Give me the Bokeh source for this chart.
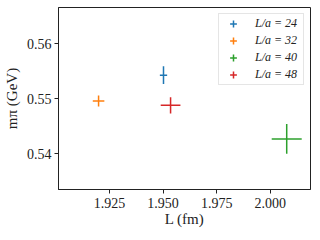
import numpy as np
from bokeh.plotting import figure
from bokeh.models import Range1d, FixedTicker, Legend, LegendItem, ColumnDataSource
from bokeh.embed import file_html
from bokeh.resources import INLINE

labels = ["L/a = 24", "L/a = 32", "L/a = 40", "L/a = 48"]
colors = ["#1f77b4", "#ff7f0e", "#2ca02c", "#d62728"]
L_fm = [1.9502, 1.9199, 2.0077, 1.9535]
L_err = [0.0017, 0.0027, 0.0070, 0.0046]
m_pi = [0.5543, 0.5496, 0.5427, 0.5488]
m_err = [0.0016, 0.0010, 0.0027, 0.0015]
x_ticks = [1.925, 1.950, 1.975, 2.000]
y_ticks = [0.54, 0.55, 0.56]

FONT = "Liberation Serif"

p = figure(width=311, height=229, output_backend="svg", toolbar_location=None,
           x_range=Range1d(1.9012, 2.0188), y_range=Range1d(0.5335, 0.5666),
           min_border_left=55, min_border_right=1, min_border_top=7, min_border_bottom=39)
p.background_fill_color = "white"
p.border_fill_color = "white"
p.outline_line_color = "#222222"
p.outline_line_width = 1
p.xgrid.visible = False
p.ygrid.visible = False

items = []
for i in range(4):
    src = ColumnDataSource(dict(
        x=[L_fm[i]], y=[m_pi[i]],
        x0=[L_fm[i] - L_err[i]], x1=[L_fm[i] + L_err[i]],
        y0=[m_pi[i] - m_err[i]], y1=[m_pi[i] + m_err[i]]))
    p.segment(x0="x0", y0="y", x1="x1", y1="y", source=src, line_color=colors[i], line_width=1.5)
    p.segment(x0="x", y0="y0", x1="x", y1="y1", source=src, line_color=colors[i], line_width=1.5)
    leg = p.scatter(x=[np.nan], y=[np.nan], marker="cross", size=14, line_width=1.5,
                    line_color=colors[i])
    items.append(LegendItem(label=labels[i], renderers=[leg]))

legend = Legend(items=items, location="top_right")
legend.label_text_font = FONT
legend.label_text_font_style = "italic"
legend.label_text_font_size = "12px"
legend.label_text_color = "#222222"
legend.label_height = 13
legend.glyph_height = 17
legend.glyph_width = 28
legend.label_width = 44
legend.label_standoff = 8
legend.spacing = 0
legend.padding = dict(left=0, right=4, top=1, bottom=1)
legend.margin = 6
legend.border_line_color = "#cccccc"
legend.border_line_width = 1
legend.background_fill_alpha = 0.8
p.add_layout(legend)

for ax in (p.xaxis, p.yaxis):
    ax.axis_line_color = "#222222"
    ax.major_tick_line_color = "#222222"
    ax.major_tick_out = 4
    ax.major_tick_in = 0
    ax.minor_tick_line_color = None
    ax.major_label_text_font = FONT
    ax.major_label_text_font_size = "14px"
    ax.major_label_text_color = "#222222"
    ax.axis_label_text_font = FONT
    ax.axis_label_text_font_size = "15px"
    ax.axis_label_text_font_style = "normal"
    ax.axis_label_text_color = "#222222"

p.xaxis.ticker = FixedTicker(ticks=x_ticks)
p.yaxis.ticker = FixedTicker(ticks=y_ticks)
p.xaxis.major_label_overrides = {t: f"{t:.3f}" for t in x_ticks}
p.yaxis.major_label_overrides = {t: f"{t:.2f}" for t in y_ticks}
p.xaxis.axis_label = "L (fm)"
p.yaxis.axis_label = "mπ (GeV)"
p.xaxis.major_label_standoff = 4
p.yaxis.major_label_standoff = 3
p.xaxis.axis_label_standoff = 0
p.yaxis.axis_label_standoff = 4

open("out.html", "w").write(file_html(p, INLINE))
